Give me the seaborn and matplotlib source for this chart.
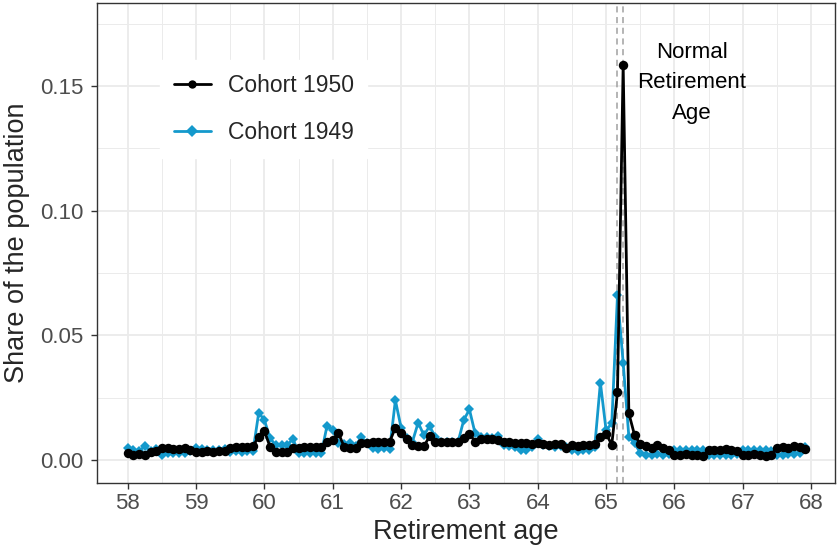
import numpy as np
import pandas as pd
import matplotlib
matplotlib.use("Agg")
import matplotlib.pyplot as plt
import seaborn as sns

# Monthly retirement ages 58y0m .. 67y11m
months = list(range(120))

cohort_1950 = [
    0.0027, 0.0020, 0.0024, 0.0020, 0.0033, 0.0037, 0.0047, 0.0047, 0.0044, 0.0044, 0.0047, 0.0040,
    0.0033, 0.0033, 0.0037, 0.0033, 0.0037, 0.0037, 0.0047, 0.0053, 0.0053, 0.0053, 0.0056, 0.0094,
    0.0116, 0.0053, 0.0033, 0.0033, 0.0033, 0.0047, 0.0047, 0.0053, 0.0053, 0.0053, 0.0053, 0.0073,
    0.0080, 0.0108, 0.0053, 0.0047, 0.0047, 0.0067, 0.0070, 0.0072, 0.0074, 0.0072, 0.0074, 0.0130,
    0.0110, 0.0085, 0.0060, 0.0055, 0.0055, 0.0095, 0.0074, 0.0074, 0.0072, 0.0074, 0.0074, 0.0088,
    0.0105, 0.0074, 0.0085, 0.0084, 0.0085, 0.0082, 0.0072, 0.0072, 0.0068, 0.0070, 0.0068, 0.0066,
    0.0068, 0.0064, 0.0062, 0.0064, 0.0066, 0.0050, 0.0060, 0.0058, 0.0062, 0.0060, 0.0064, 0.0094,
    0.0105, 0.0062, 0.0272, 0.1585, 0.0187, 0.0100, 0.0065, 0.0055, 0.0050, 0.0060, 0.0050, 0.0042,
    0.0022, 0.0020, 0.0025, 0.0020, 0.0022, 0.0018, 0.0040, 0.0042, 0.0040, 0.0044, 0.0040, 0.0038,
    0.0022, 0.0020, 0.0024, 0.0020, 0.0018, 0.0022, 0.0050, 0.0052, 0.0050, 0.0055, 0.0052, 0.0045,
]

cohort_1949 = [
    0.0050, 0.0040, 0.0037, 0.0055, 0.0037, 0.0045, 0.0022, 0.0027, 0.0030, 0.0027, 0.0030, 0.0038,
    0.0050, 0.0045, 0.0040, 0.0040, 0.0040, 0.0045, 0.0033, 0.0035, 0.0033, 0.0036, 0.0036, 0.0190,
    0.0160, 0.0087, 0.0060, 0.0060, 0.0060, 0.0085, 0.0030, 0.0027, 0.0027, 0.0030, 0.0027, 0.0138,
    0.0120, 0.0070, 0.0065, 0.0067, 0.0055, 0.0092, 0.0067, 0.0047, 0.0045, 0.0047, 0.0045, 0.0240,
    0.0130, 0.0087, 0.0074, 0.0150, 0.0100, 0.0135, 0.0094, 0.0074, 0.0072, 0.0074, 0.0072, 0.0160,
    0.0203, 0.0107, 0.0094, 0.0092, 0.0090, 0.0098, 0.0062, 0.0055, 0.0052, 0.0042, 0.0040, 0.0052,
    0.0085, 0.0062, 0.0055, 0.0052, 0.0055, 0.0052, 0.0040, 0.0038, 0.0040, 0.0040, 0.0053, 0.0310,
    0.0120, 0.0147, 0.0660, 0.0390, 0.0093, 0.0067, 0.0030, 0.0022, 0.0022, 0.0024, 0.0022, 0.0025,
    0.0040, 0.0042, 0.0040, 0.0040, 0.0042, 0.0040, 0.0020, 0.0022, 0.0020, 0.0022, 0.0020, 0.0024,
    0.0040, 0.0042, 0.0040, 0.0042, 0.0040, 0.0038, 0.0020, 0.0022, 0.0025, 0.0024, 0.0030, 0.0052,
]

series_names = ["Cohort 1950", "Cohort 1949"]
x_ticks = [58, 59, 60, 61, 62, 63, 64, 65, 66, 67, 68]
y_ticks = [0.00, 0.05, 0.10, 0.15]
nra_lines = [65 + 2 / 12, 65 + 3 / 12]
annotation = "Normal\nRetirement\nAge"

ages = [58 + m / 12 for m in months]
df = pd.concat([
    pd.DataFrame({"age": ages, "share": cohort_1950, "cohort": series_names[0]}),
    pd.DataFrame({"age": ages, "share": cohort_1949, "cohort": series_names[1]}),
])

sns.set_theme(style="whitegrid")
plt.rcParams["font.family"] = ["Liberation Sans", "DejaVu Sans"]

fig = plt.figure(figsize=(8.4, 5.48), dpi=100)
ax = fig.add_axes([97 / 840, 1 - 483 / 548, (835 - 97) / 840, (483 - 3) / 548])

colors = {"Cohort 1950": "#000000", "Cohort 1949": "#1499CC"}
sns.lineplot(data=df, x="age", y="share", hue="cohort", style="cohort",
             hue_order=series_names, style_order=series_names,
             palette=colors, markers={"Cohort 1950": "o", "Cohort 1949": "D"},
             dashes=False, linewidth=2.0, markeredgewidth=0, ax=ax)

for ln, name in zip(ax.lines[:2], series_names):
    if name == "Cohort 1950":
        ln.set_markersize(6.8)
        ln.set_zorder(4)
    else:
        ln.set_markersize(4.6)
        ln.set_zorder(3)

for v in nra_lines:
    ax.axvline(v, color="#a0a0a0", linestyle=(0, (4, 3)), linewidth=1.1, zorder=2)

ax.text(66.25, 0.1513, annotation, ha="center", va="center", fontsize=16, linespacing=1.6,
        color="#000000")

ax.set_xticks(x_ticks)
ax.set_yticks(y_ticks)
ax.set_yticklabels([f"{v:.2f}" for v in y_ticks])
ax.set_xticks(np.arange(58.5, 68.0, 1.0), minor=True)
ax.set_yticks([0.025, 0.075, 0.125, 0.175], minor=True)
ax.set_xlim(57.55, 68.35)
ax.set_ylim(-0.0092, 0.1833)
ax.grid(which="major", color="#EBEBEB", linewidth=1.3)
ax.grid(which="minor", color="#EBEBEB", linewidth=0.7)
ax.set_axisbelow(True)
for s in ax.spines.values():
    s.set_color("#333333")
    s.set_linewidth(1.0)
ax.tick_params(axis="both", which="major", labelsize=16, labelcolor="#4D4D4D",
               color="#333333", length=4, width=1, direction="out", bottom=True, left=True)
ax.tick_params(axis="y", which="major", pad=6)
ax.tick_params(axis="both", which="minor", length=0)
ax.set_xlabel("Retirement age", fontsize=19.5, labelpad=3)
ax.set_ylabel("Share of the population", fontsize=19.5, labelpad=7)

handles, labels = ax.get_legend_handles_labels()
leg = ax.legend(handles, labels, loc="upper left", bbox_to_anchor=(0.07, 0.905),
                fontsize=16.5, frameon=True, framealpha=1, edgecolor="white",
                facecolor="white", fancybox=False, handlelength=1.6,
                labelspacing=1.05, borderpad=0.6, handletextpad=0.75)
leg.set_title(None)

fig.savefig("out.png", dpi=100)
